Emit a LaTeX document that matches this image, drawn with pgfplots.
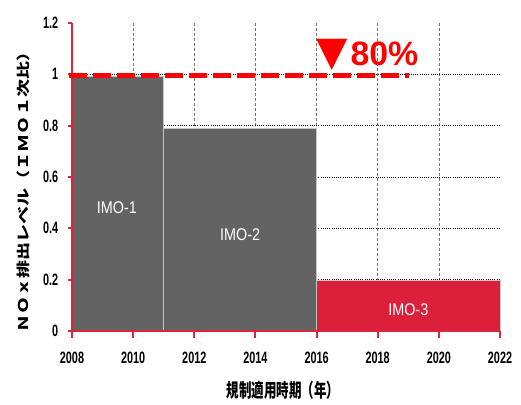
\documentclass[border=0pt]{standalone}
\usepackage{fontspec}
\usepackage{graphicx}
\usepackage{pgfplots}
\pgfplotsset{compat=1.18}
\setmainfont{Liberation Sans}
\newfontfamily\tickfont[FakeStretch=0.66]{Liberation Sans}
\newfontfamily\labfont[FakeStretch=0.85]{Liberation Sans}
\newfontfamily\cjk{Noto Sans CJK JP}
\newfontfamily\dejavu{DejaVu Sans}
\definecolor{barred}{RGB}{220,31,58}
\definecolor{bargray}{RGB}{99,99,99}
\definecolor{axred}{RGB}{222,35,60}
\begin{document}
\begin{tikzpicture}
\useasboundingbox (-72bp,-74bp) rectangle (449bp,331bp);
% background axis: grid and bars
\begin{axis}[
  at={(0,0)}, anchor=south west, scale only axis,
  width=428bp, height=308bp,
  xmin=2008, xmax=2022, ymin=0, ymax=1.2,
  axis line style={draw=none},
  xtick={2010,2012,...,2020}, ytick={0.2,0.4,0.6,0.8,1},
  xticklabels={}, yticklabels={}, major tick length=0pt,
  xmajorgrids, ymajorgrids,
  x grid style={black!55, dash pattern=on 3bp off 2bp, line width=0.7bp},
  y grid style={black, dash pattern=on 1bp off 1.2bp, line width=0.7bp},
  clip=false,
]
\addplot[fill=bargray, draw=black!22, line width=0.9bp] coordinates {(2008,0) (2008,0.99) (2011,0.99) (2011,0)} -- cycle;
\addplot[fill=bargray, draw=black!22, line width=0.9bp] coordinates {(2011,0) (2011,0.79) (2016,0.79) (2016,0)} -- cycle;
\addplot[fill=barred, draw=black!22, line width=0.9bp] coordinates {(2016,0) (2016,0.196) (2022,0.196) (2022,0)} -- cycle;
\node[white, font=\labfont\fontsize{17}{17}\selectfont] at (axis cs:2009.47,0.48) {IMO-1};
\node[white, font=\labfont\fontsize{17}{17}\selectfont] at (axis cs:2013.5,0.374) {IMO-2};
\node[white, font=\labfont\fontsize{17}{17}\selectfont] at (axis cs:2019.0,0.082) {IMO-3};
\end{axis}
% foreground axis: axis lines, ticks, labels, target line
\begin{axis}[
  at={(0,0)}, anchor=south west, scale only axis,
  width=428bp, height=308bp,
  xmin=2008, xmax=2022, ymin=0, ymax=1.2,
  axis lines=left, axis line style={axred, line width=2bp, -},
  xtick={2008,2010,...,2022}, ytick={0,0.2,0.4,0.6,0.8,1,1.2},
  tick align=outside,
  xtick style={axred, line width=2bp, /pgfplots/major tick length=7bp},
  ytick style={axred, line width=2bp, /pgfplots/major tick length=4bp},
  tick label style={font=\tickfont\bfseries\fontsize{16.5}{16.5}\selectfont, black},
  xticklabel style={yshift=-13bp},
  yticklabel style={xshift=-6bp},
  /pgf/number format/assume math mode=true,
  /pgf/number format/1000 sep={},
  xlabel={\scalebox{0.66}[1]{\cjk\bfseries\fontsize{19}{19}\selectfont 規制適用時期（年）}},
  ylabel={\scalebox{1.34}[1]{\cjk\bfseries\fontsize{13.5}{13.5}\selectfont ＮＯｘ排出レベル（ＩＭＯ１次比）}},
  xlabel style={at={(axis description cs:0.493,-0.1916)}, anchor=center, inner sep=0pt},
  ylabel style={at={(axis description cs:-0.1145,0.464)}, anchor=center, inner sep=0pt},
  clip=false,
]
\addplot[red, line width=5.7bp, dash pattern=on 17.5bp off 6.5bp] coordinates {(2007.91,0.995) (2019.02,0.995)};
\node[anchor=base west, inner sep=0pt, red] at (axis cs:2015.98,1.036) {{\dejavu\fontsize{41}{41}\selectfont ▼}\hspace{3bp}{\bfseries\fontsize{34}{34}\selectfont 80\%}};
\end{axis}
\end{tikzpicture}
\end{document}
